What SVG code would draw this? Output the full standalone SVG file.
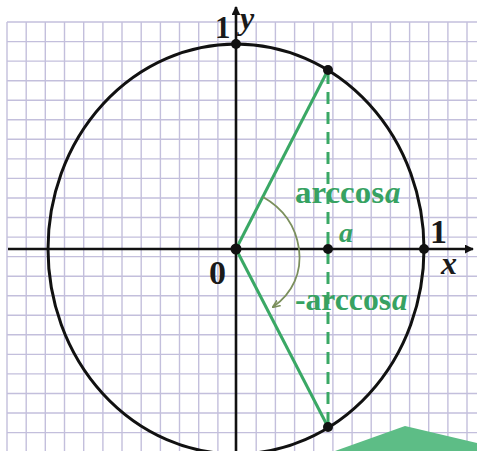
<svg xmlns="http://www.w3.org/2000/svg" width="477" height="451" viewBox="0 0 477 451">
<style>
.grid line{stroke:#c3bfdc;stroke-width:1.4}
.axis{stroke:#111;stroke-width:2.6;fill:none}
.circ{stroke:#111;stroke-width:3;fill:none}
.gl{stroke:#3aa865;stroke-width:3;fill:none}
.gd{stroke:#3aa865;stroke-width:3;fill:none;stroke-dasharray:12 8}
.arc{stroke:#7b8f5c;stroke-width:1.8;fill:none}
.pt{fill:#111}
.lbl{font-family:"Liberation Serif",serif;font-weight:bold;fill:#1a1a1a}
.var{font-family:"Liberation Serif",serif;font-style:italic;font-weight:bold;fill:#1a1a1a}
.gt{font-family:"Liberation Serif",serif;font-weight:bold;fill:#37a262}
.gv{font-family:"Liberation Serif",serif;font-style:italic;font-weight:bold;fill:#37a262}
</style>
<defs>
<marker id="ah" viewBox="0 0 10 10" refX="9" refY="5" markerWidth="9" markerHeight="9" orient="auto" markerUnits="userSpaceOnUse">
<path d="M0,0 L10,5 L0,10 z" fill="#111"/>
</marker>
<marker id="ah2" viewBox="0 0 10 10" refX="9" refY="5" markerWidth="8" markerHeight="8" orient="auto" markerUnits="userSpaceOnUse">
<path d="M0,1 L10,5 L0,9" fill="none" stroke="#7b8f5c" stroke-width="2"/>
</marker>
</defs>
<rect width="477" height="451" fill="#fff"/>
<g id="grid" class="grid">
<line x1="7" y1="22" x2="7" y2="451"/><line x1="26.2" y1="22" x2="26.2" y2="451"/><line x1="45.3" y1="22" x2="45.3" y2="451"/><line x1="64.5" y1="22" x2="64.5" y2="451"/><line x1="83.7" y1="22" x2="83.7" y2="451"/><line x1="102.9" y1="22" x2="102.9" y2="451"/><line x1="122" y1="22" x2="122" y2="451"/><line x1="141.2" y1="22" x2="141.2" y2="451"/><line x1="160.4" y1="22" x2="160.4" y2="451"/><line x1="179.5" y1="22" x2="179.5" y2="451"/><line x1="198.7" y1="22" x2="198.7" y2="451"/><line x1="217.9" y1="22" x2="217.9" y2="451"/><line x1="256.2" y1="22" x2="256.2" y2="451"/><line x1="275.4" y1="22" x2="275.4" y2="451"/><line x1="294.6" y1="22" x2="294.6" y2="451"/><line x1="313.7" y1="22" x2="313.7" y2="451"/><line x1="332.9" y1="22" x2="332.9" y2="451"/><line x1="352.1" y1="22" x2="352.1" y2="451"/><line x1="371.2" y1="22" x2="371.2" y2="451"/><line x1="390.4" y1="22" x2="390.4" y2="451"/><line x1="409.6" y1="22" x2="409.6" y2="451"/><line x1="428.7" y1="22" x2="428.7" y2="451"/><line x1="447.9" y1="22" x2="447.9" y2="451"/><line x1="467" y1="22" x2="467" y2="451"/>
<line x1="7" y1="22" x2="477" y2="22"/><line x1="7" y1="41.6" x2="477" y2="41.6"/><line x1="7" y1="61.1" x2="477" y2="61.1"/><line x1="7" y1="80.7" x2="477" y2="80.7"/><line x1="7" y1="100.2" x2="477" y2="100.2"/><line x1="7" y1="119.8" x2="477" y2="119.8"/><line x1="7" y1="139.3" x2="477" y2="139.3"/><line x1="7" y1="158.9" x2="477" y2="158.9"/><line x1="7" y1="178.4" x2="477" y2="178.4"/><line x1="7" y1="198" x2="477" y2="198"/><line x1="7" y1="217.5" x2="477" y2="217.5"/><line x1="7" y1="237.1" x2="477" y2="237.1"/><line x1="7" y1="256.6" x2="477" y2="256.6"/><line x1="7" y1="276.2" x2="477" y2="276.2"/><line x1="7" y1="295.7" x2="477" y2="295.7"/><line x1="7" y1="315.3" x2="477" y2="315.3"/><line x1="7" y1="334.8" x2="477" y2="334.8"/><line x1="7" y1="354.4" x2="477" y2="354.4"/><line x1="7" y1="373.9" x2="477" y2="373.9"/><line x1="7" y1="393.5" x2="477" y2="393.5"/><line x1="7" y1="413" x2="477" y2="413"/><line x1="7" y1="432.6" x2="477" y2="432.6"/>
</g>
<polygon id="corner-shape" points="335,451 405,426 477,443 477,451" fill="#5dbd86"/>
<g id="circle"><ellipse class="circ" cx="236" cy="249" rx="188" ry="205"/></g>
<g id="connectors">
<line class="axis" x1="8" y1="249" x2="473" y2="249" marker-end="url(#ah)"/>
<line class="axis" x1="236" y1="451" x2="236" y2="7" marker-end="url(#ah)"/>
<line class="gl" x1="236" y1="249" x2="328" y2="70"/>
<line class="gl" x1="236" y1="249" x2="328" y2="427"/>
<line class="gd" x1="328" y1="72" x2="328" y2="427"/>
<path class="arc" d="M263,197 C286,210 296,228 299,249 C302,272 293,293 273,307" marker-end="url(#ah2)"/>
</g>
<g id="points">
<circle id="p-top" class="pt" cx="236" cy="44" r="5"/>
<circle id="p-upper" class="pt" cx="328" cy="70" r="5"/>
<circle id="p-origin" class="pt" cx="236" cy="249" r="5.5"/>
<circle id="p-a" class="pt" cx="328" cy="249" r="5"/>
<circle id="p-one" class="pt" cx="424" cy="249" r="5"/>
<circle id="p-lower" class="pt" cx="328" cy="427" r="5"/>
</g>
<g id="labels">
<text class="lbl" x="215" y="38" font-size="31">1</text>
<text class="var" x="240" y="29" font-size="32">y</text>
<text class="lbl" x="430" y="243" font-size="34">1</text>
<text class="var" x="441" y="274" font-size="32">x</text>
<text class="lbl" x="209" y="284" font-size="34">0</text>
<text class="gv" x="339" y="242" font-size="28">a</text>
<text class="gt" x="295" y="203" font-size="31" textLength="89" lengthAdjust="spacingAndGlyphs">arccos</text>
<text class="gv" x="385" y="203" font-size="31">a</text>
<text class="gt" x="295" y="310" font-size="31" textLength="96" lengthAdjust="spacingAndGlyphs">-arccos</text>
<text class="gv" x="392" y="310" font-size="31">a</text>
</g>
</svg>
